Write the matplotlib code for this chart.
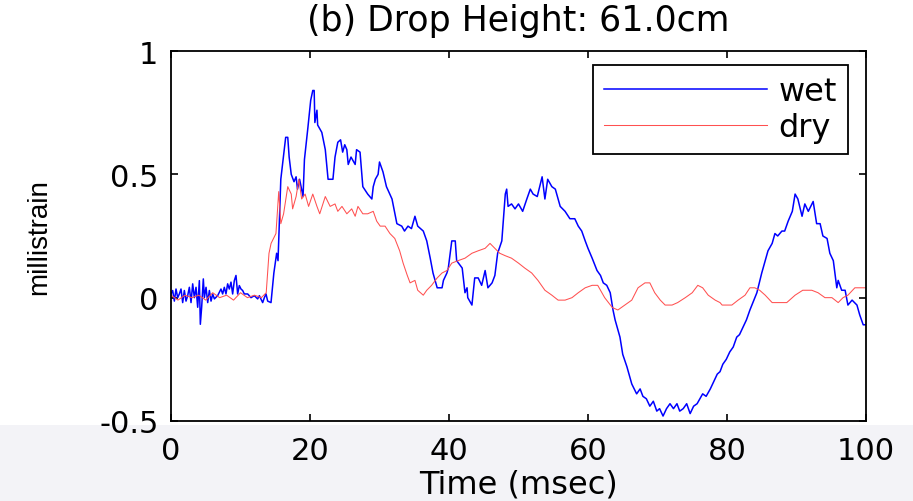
import matplotlib
matplotlib.use('Agg')
import matplotlib.pyplot as plt
from matplotlib import font_manager
from matplotlib.patches import Rectangle

# wet (blue) trace
wet_t = [0, 0.24, 0.48, 0.72, 0.96, 1.2, 1.44, 1.68, 1.92, 2.16, 2.4, 2.64, 2.88, 3.12, 3.36,
         3.6, 3.84, 4.08, 4.22, 4.41, 4.65, 4.8, 5.04, 5.28, 5.52, 5.76, 6.0, 6.24, 6.71, 7.19,
         7.43, 7.67, 7.91, 8.15, 8.39, 8.63, 8.87, 9.11, 9.35, 9.59, 9.83, 10.07, 10.31, 10.55,
         11.03, 11.51, 11.99, 12.47, 12.71, 13.19, 13.43, 13.67, 13.91, 14.39,
         14.8, 15.2, 15.4, 15.8, 16.5, 16.8, 17.0, 17.3, 17.7, 18.0, 18.2, 18.5, 19.0, 19.2,
         19.7, 20.1, 20.4, 20.6, 20.7, 21.0, 21.1, 21.7, 22.2, 22.6, 23.3, 23.6, 24.0, 24.4,
         24.7, 25.0, 25.3, 25.5, 25.9, 26.5, 26.7, 27.2, 27.6, 28.3, 28.9, 29.1, 29.4, 29.8,
         30.0, 30.5, 31.0, 31.8, 32.5, 33.2, 33.6, 34.1, 34.6, 35.1, 35.5, 36.3, 36.8, 37.3,
         37.7, 38.3, 39.0, 39.2, 39.7, 39.9, 40.4, 40.9, 41.1, 41.9, 42.3, 42.6, 42.7, 43.3,
         43.7, 44.2, 44.7, 45.2, 45.6, 46.2, 46.6, 47.0, 47.6, 48.1, 48.3, 48.5, 49.0, 49.5,
         50.0, 50.6, 51.2, 51.7, 52.1, 52.7, 53.4, 53.8, 54.2, 54.8, 55.3, 56.0, 56.7, 57.4,
         58.1, 58.6, 59.1, 59.6, 60.0, 60.6, 61.3, 61.8, 62.2, 62.7, 63.2, 63.6, 63.9, 64.6,
         65.0, 65.6, 66.3, 67.0, 67.5, 67.9, 68.4, 68.9, 69.4, 69.9, 70.3, 70.8, 71.3, 71.8,
         72.3, 72.8, 73.2, 73.7, 74.2, 74.7, 75.2, 75.7, 76.1, 76.5, 77.0, 77.6, 78.1, 78.6,
         79.0, 79.4, 79.9, 80.4, 80.9, 81.4, 81.8, 82.3, 82.8, 83.3, 84.3, 85.0, 85.5, 85.9,
         86.5, 86.9, 87.3, 87.9, 88.3, 88.8, 89.4, 89.8, 90.2, 90.8, 91.2, 91.7, 92.4, 92.9,
         93.4, 93.8, 94.4, 94.8, 95.3, 95.8, 96.0, 96.5, 97.0, 97.4, 98.0, 98.7, 99.1, 99.6, 100]
wet_v = [0.015, 0.029, -0.014, 0.035, 0.0, 0.015, 0.035, -0.02, 0.029, -0.014, 0.008, 0.042,
         -0.02, 0.056, 0.0, 0.042, -0.039, 0.069, -0.108, -0.039, 0.076, 0.0, 0.042, -0.02,
         0.029, -0.014, 0.015, -0.005, 0.008, 0.035, 0.015, 0.042, 0.015, 0.056, 0.035, 0.063,
         0.015, 0.069, 0.09, 0.015, 0.049, 0.035, 0.029, 0.015, 0.015, 0.0, 0.008, -0.005,
         0.008, -0.02, 0.0, 0.015, -0.014, -0.02,
         0.10, 0.18, 0.15, 0.48, 0.65, 0.65, 0.57, 0.50, 0.47, 0.49, 0.44, 0.48, 0.41, 0.56,
         0.69, 0.80, 0.84, 0.84, 0.71, 0.76, 0.70, 0.67, 0.60, 0.48, 0.48, 0.57, 0.63, 0.64,
         0.59, 0.62, 0.60, 0.54, 0.57, 0.54, 0.60, 0.59, 0.45, 0.42, 0.40, 0.45, 0.48, 0.50,
         0.55, 0.51, 0.45, 0.40, 0.30, 0.29, 0.27, 0.29, 0.28, 0.33, 0.29, 0.27, 0.23, 0.16,
         0.10, 0.04, 0.04, 0.07, 0.10, 0.12, 0.23, 0.23, 0.15, 0.12, 0.02, 0.04, 0.0, -0.03,
         0.08, 0.08, 0.05, 0.11, 0.04, 0.06, 0.09, 0.18, 0.23, 0.42, 0.44, 0.37, 0.38, 0.36,
         0.38, 0.35, 0.40, 0.44, 0.42, 0.41, 0.49, 0.40, 0.48, 0.45, 0.44, 0.37, 0.35, 0.32,
         0.32, 0.29, 0.27, 0.23, 0.20, 0.16, 0.11, 0.09, 0.06, 0.05, 0.02, -0.05, -0.09, -0.16,
         -0.23, -0.28, -0.35, -0.39, -0.37, -0.40, -0.41, -0.44, -0.42, -0.46, -0.45, -0.48,
         -0.45, -0.43, -0.45, -0.43, -0.46, -0.45, -0.43, -0.47, -0.44, -0.43, -0.41, -0.39,
         -0.40, -0.37, -0.34, -0.31, -0.30, -0.27, -0.25, -0.22, -0.20, -0.16, -0.15, -0.12,
         -0.09, -0.05, 0.02, 0.10, 0.15, 0.19, 0.22, 0.26, 0.25, 0.27, 0.27, 0.31, 0.35, 0.42,
         0.40, 0.33, 0.38, 0.35, 0.39, 0.30, 0.30, 0.25, 0.24, 0.18, 0.15, 0.04, 0.07, 0.03,
         0.03, -0.03, -0.01, -0.03, -0.07, -0.11, -0.11]

# dry (red) trace
dry_t = [0, 1, 2, 3, 4, 5, 6, 7, 8, 9, 10, 11, 12, 13, 13.7, 14.1, 14.4, 15.1, 15.5, 15.8,
         16.2, 16.8, 17.3, 17.5, 18.0, 18.4, 18.8, 19.3, 19.8, 20.4, 21.0, 21.4, 22.2, 22.9,
         23.6, 24.0, 24.6, 25.3, 26.0, 26.5, 26.9, 27.6, 28.3, 29.1, 29.6, 30.1, 30.8, 31.5,
         32.2, 32.9, 33.4, 34.0, 34.4, 35.1, 35.5, 36.3, 36.8, 37.5, 38.3, 39.0, 39.7, 40.4,
         41.3, 42.3, 43.3, 44.2, 45.2, 45.9, 46.6, 47.3, 48.1, 49.0, 50.0, 50.9, 51.9, 52.8,
         53.8, 54.8, 55.7, 56.7, 57.7, 58.6, 59.6, 60.6, 61.4, 62.4, 63.5, 64.3, 65.3, 66.3,
         67.2, 68.2, 68.9, 69.6, 70.4, 71.1, 72.1, 72.9, 74.0, 75.0, 75.8, 76.5, 77.3, 78.3,
         79.0, 79.3, 80.1, 80.7, 81.6, 82.6, 83.3, 84.0, 84.7, 85.5, 86.5, 87.3, 88.6, 89.8,
         90.9, 92.2, 93.1, 94.1, 95.1, 96.0, 96.7, 97.4, 98.4, 100]
dry_v = [0.01, -0.01, 0.01, 0.0, 0.01, -0.01, 0.02, 0.0, 0.01, -0.01, 0.02, 0.0, 0.01, 0.0,
         0.02, 0.18, 0.22, 0.26, 0.43, 0.30, 0.34, 0.45, 0.42, 0.36, 0.41, 0.48, 0.40, 0.42,
         0.37, 0.42, 0.37, 0.34, 0.41, 0.37, 0.38, 0.35, 0.37, 0.34, 0.36, 0.33, 0.37, 0.34,
         0.34, 0.35, 0.31, 0.29, 0.29, 0.26, 0.24, 0.19, 0.14, 0.09, 0.06, 0.07, 0.03, 0.01,
         0.03, 0.05, 0.08, 0.10, 0.11, 0.14, 0.15, 0.16, 0.18, 0.19, 0.20, 0.22, 0.20, 0.18,
         0.17, 0.16, 0.14, 0.12, 0.10, 0.07, 0.03, 0.01, -0.01, -0.01, 0.0, 0.02, 0.04, 0.05,
         0.05, 0.0, -0.04, -0.05, -0.03, -0.01, 0.04, 0.06, 0.06, 0.02, -0.01, -0.03, -0.03,
         -0.02, 0.0, 0.02, 0.05, 0.04, 0.01, -0.01, -0.02, -0.03, -0.03, -0.03, -0.01, 0.01,
         0.04, 0.04, 0.03, 0.01, -0.02, -0.02, -0.02, 0.01, 0.03, 0.03, 0.02, 0.0, 0.0, -0.02,
         0.0, 0.01, 0.04, 0.04]

x_ticks = [0, 20, 40, 60, 80, 100]
y_ticks = [-0.5, 0, 0.5, 1]
y_ticklabels = ['-0.5', '0', '0.5', '1']

# narrow face for the y label if it is there, plain Liberation otherwise
try:
    font_manager.findfont('Liberation Sans Narrow', fallback_to_default=False)
    ylab_font, ylab_size = 'Liberation Sans Narrow', 23
except ValueError:
    ylab_font, ylab_size = 'Liberation Sans', 20

fig = plt.figure(figsize=(9.13, 5.02), dpi=100)
# faint grey band of the page behind the lower part
fig.patches.append(Rectangle((0, 0), 1, 0.152, transform=fig.transFigure,
                             facecolor='#f3f3f7', edgecolor='none', zorder=-5))

ax = fig.add_axes([0.1873, 0.1594, 0.7612, 0.737])
ax.plot(wet_t, wet_v, color='#0000ff', lw=1.1, label='wet')
ax.plot(dry_t, dry_v, color='#ff5050', lw=0.75, label='dry')

ax.set_xlim(0, 100)
ax.set_ylim(-0.5, 1)
ax.set_xticks(x_ticks)
ax.set_yticks(y_ticks)
ax.set_yticklabels(y_ticklabels)
ax.tick_params(direction='in', length=5, width=1.2, top=True, right=True,
               labelsize=22)
ax.tick_params(axis='y', pad=9)
ax.tick_params(axis='x', pad=11)
for s in ax.spines.values():
    s.set_linewidth(1.3)
    s.set_color('black')

ax.set_title('(b) Drop Height: 61.0cm', fontsize=25, pad=15)
ax.set_xlabel('Time (msec)', fontsize=23, labelpad=2)
ax.set_ylabel('millistrain', fontsize=ylab_size, labelpad=34,
              family=[ylab_font, 'DejaVu Sans'])

leg = ax.legend(loc='upper right', bbox_to_anchor=(0.974, 0.962), fontsize=23,
                handlelength=5.1, handletextpad=0.35, labelspacing=0.15,
                borderpad=0.35, borderaxespad=0, fancybox=False, framealpha=1)
leg.get_frame().set_edgecolor('black')
leg.get_frame().set_linewidth(1.3)

fig.savefig('out.png', dpi=100)
